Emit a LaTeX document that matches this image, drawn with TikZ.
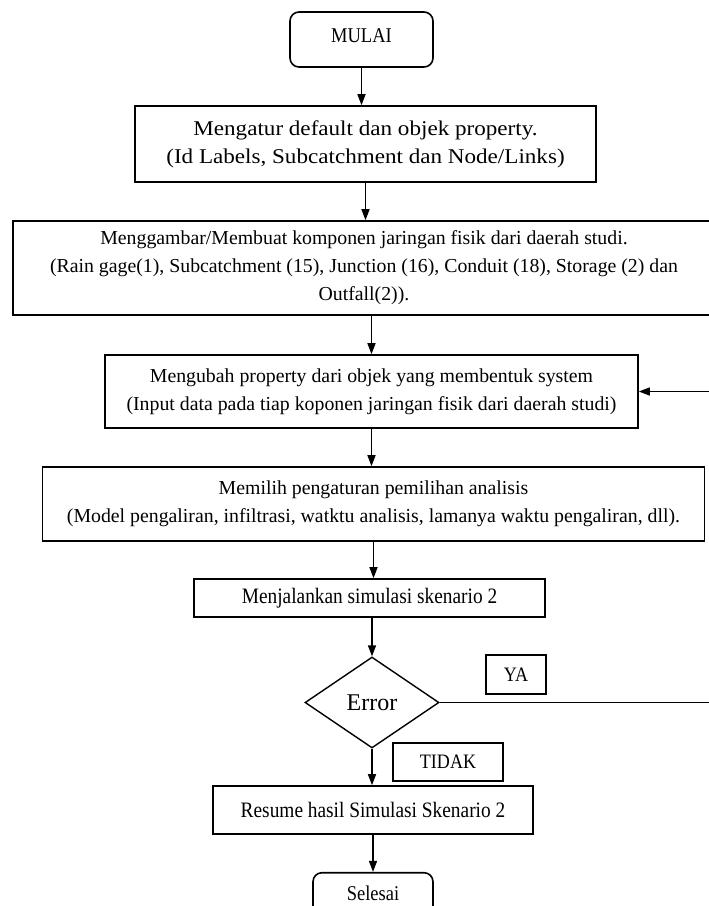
\documentclass[tikz,border=0pt]{standalone}
\usepackage{fontspec}
\setmainfont{Liberation Serif}
\newfontfamily\narrowfont{Liberation Serif}[FakeStretch=0.88]
\newfontfamily\widefont{Liberation Serif}[FakeStretch=1.1]
\usetikzlibrary{shapes.geometric,arrows.meta,positioning}

\begin{document}
\begin{tikzpicture}[x=1pt, y=-1pt,
  box/.style={draw, line width=1.6pt, align=center, inner sep=0pt, font=\fontsize{19.8}{28}\selectfont},
  bigbox/.style={box, font=\widefont\fontsize{21}{28}\selectfont},
  smallbox/.style={box, font=\narrowfont\fontsize{22}{26}\selectfont},
  term/.style={box, rounded corners=9pt, font=\narrowfont\fontsize{21}{24}\selectfont},
  tag/.style={draw, line width=1.4pt, inner sep=0pt, font=\narrowfont\fontsize{20.5}{24}\selectfont},
  arr/.style={-{Triangle[length=11pt,width=8pt]}, line width=1.5pt}]
  \useasboundingbox (0,0) rectangle (709,906);
  \clip (0,0) rectangle (709,906);
  \node (mulai) [term, minimum width=143pt, minimum height=55pt] at (361.5,39.5) {\raisebox{7pt}{MULAI}};
  \node (atur) [bigbox, minimum width=461pt, minimum height=76pt] at (365.5,144) {Mengatur default dan objek property.\\(Id Labels, Subcatchment dan Node/Links)};
  \node (gambar) [box, minimum width=702pt, minimum height=94pt] at (364,268) {Menggambar/Membuat komponen jaringan fisik dari daerah studi.\\(Rain gage(1), Subcatchment (15), Junction (16), Conduit (18), Storage (2) dan\\Outfall(2)).};
  \node (ubah) [box, minimum width=533pt, minimum height=73pt] at (371.5,391.5) {Mengubah property dari objek yang membentuk system\\(Input data pada tiap koponen jaringan fisik dari daerah studi)};
  \node (pilih) [box, minimum width=662pt, minimum height=74pt] at (373.5,504) {Memilih pengaturan pemilihan analisis\\(Model pengaliran, infiltrasi, watktu analisis, lamanya waktu pengaliran, dll).};
  \node (jalan) [smallbox, minimum width=351pt, minimum height=38pt] at (369.5,598) {Menjalankan simulasi skenario 2};
  \node (err) [diamond, draw, line width=1.4pt, inner sep=0pt, minimum width=134pt, minimum height=91pt, font=\fontsize{24}{28}\selectfont] at (372,702.5) {Error};
  \node (ya) [tag, minimum width=60pt, minimum height=39pt] at (516,674.5) {YA};
  \node (tidak) [tag, minimum width=110pt, minimum height=38pt] at (448,762) {TIDAK};
  \node (resume) [smallbox, minimum width=320pt, minimum height=48pt] at (373,810) {Resume hasil Simulasi Skenario 2};
  \node (selesai) [term, minimum width=120pt, minimum height=42pt] at (373,893.7) {Selesai};
  \coordinate (back) at (730,0);

  \draw [arr] (mulai.south) -- (mulai.south |- atur.north);
  \draw [arr] (atur.south) -- (atur.south |- gambar.north);
  \draw [arr] (ubah.north |- gambar.south) -- (ubah.north);
  \draw [arr] (ubah.south) -- (ubah.south |- pilih.north);
  \draw [arr] (pilih.south) -- (pilih.south |- jalan.north);
  \draw [arr] (err.north |- jalan.south) -- (err.north);
  \draw [arr] (err.south) -- (err.south |- resume.north);
  \draw [arr] (resume.south) -- (resume.south |- selesai.north);
  \draw [arr] (err.east) -- (err.east -| back) |- (ubah.east);
\end{tikzpicture}
\end{document}
